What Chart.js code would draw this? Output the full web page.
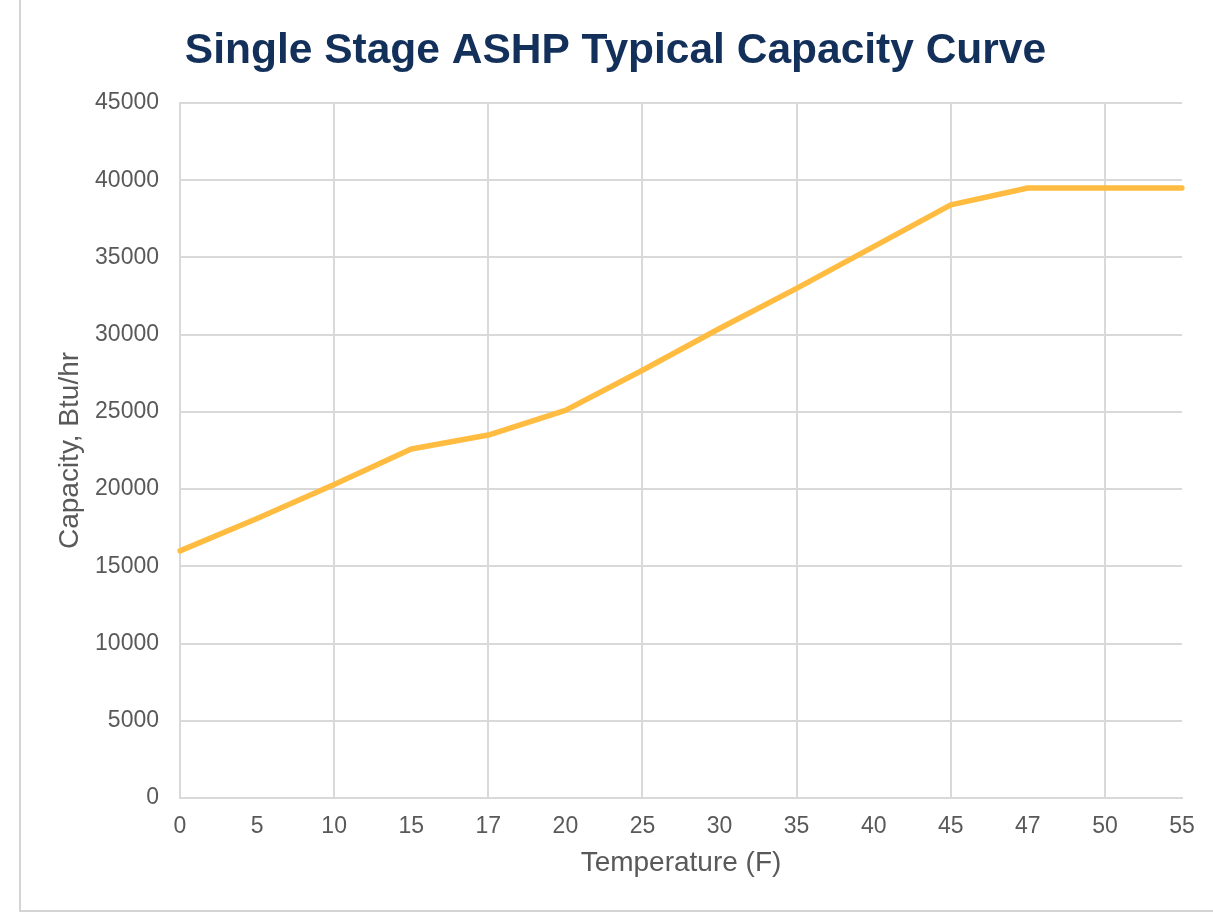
<!DOCTYPE html>
<html>
<head>
<meta charset="utf-8">
<script src="https://cdn.jsdelivr.net/npm/chart.js@4"></script>
<style>
  html,body{margin:0;padding:0;background:#fff;}
  #frame{position:absolute;left:19px;top:0;width:1194px;height:910px;border-left:2px solid #d4d4d4;border-bottom:2px solid #d4d4d4;}
  #wrap{position:absolute;left:0;top:0;width:1213px;height:914px;}
</style>
</head>
<body>
<div id="frame"></div>
<div id="wrap"><canvas id="cap"></canvas></div>
<script>
const temps=['0','5','10','15','17','20','25','30','35','40','45','47','50','55'];
const capacity=[16000,18100,20300,22600,23500,25100,27700,30400,33000,35700,38400,39500,39500,39500];
const yMin=0, yMax=45000, yStep=5000;

const tickColor='#595959';
const gridColor='#d9d9d9';

new Chart('cap',{
  type:'line',
  data:{
    labels:temps,
    datasets:[{
      data:capacity,
      borderColor:'#ffbc41',
      borderWidth:5.5,
      borderCapStyle:'round',
      borderJoinStyle:'round',
      pointRadius:0,
      tension:0,
      fill:false
    }]
  },
  options:{
    responsive:true,
    maintainAspectRatio:false,
    animation:false,
    layout:{padding:{left:49,right:31,top:0,bottom:30}},
    plugins:{
      legend:{display:false},
      tooltip:{enabled:false},
      title:{
        display:true,
        text:'Single Stage ASHP Typical Capacity Curve',
        color:'#13305a',
        font:{family:'Liberation Sans, Arial, sans-serif',size:42.5,weight:'bold'},
        padding:{top:26,bottom:26}
      }
    },
    scales:{
      x:{
        grid:{
          color:c=>(c.index%2===0&&c.index<temps.length-1)?gridColor:'transparent',
          lineWidth:2,
          drawTicks:false
        },
        border:{color:gridColor,width:2},
        ticks:{color:tickColor,padding:15,maxRotation:0,autoSkip:false,
          font:{family:'Liberation Sans, Arial, sans-serif',size:23}},
        title:{display:true,text:'Temperature (F)',color:tickColor,
          font:{family:'Liberation Sans, Arial, sans-serif',size:28},
          padding:{top:6,bottom:4}},
        afterFit:s=>{s.height=86;}
      },
      y:{
        min:yMin,max:yMax,
        grid:{color:gridColor,lineWidth:2,drawTicks:false},
        border:{color:gridColor,width:2},
        ticks:{stepSize:yStep,color:tickColor,padding:21,
          font:{family:'Liberation Sans, Arial, sans-serif',size:23},
          callback:v=>String(v)},
        title:{display:true,text:'Capacity, Btu/hr',color:tickColor,
          font:{family:'Liberation Sans, Arial, sans-serif',size:28},
          padding:{top:4,bottom:4}},
        afterFit:s=>{s.width=131;}
      }
    }
  }
});
</script>
</body>
</html>
